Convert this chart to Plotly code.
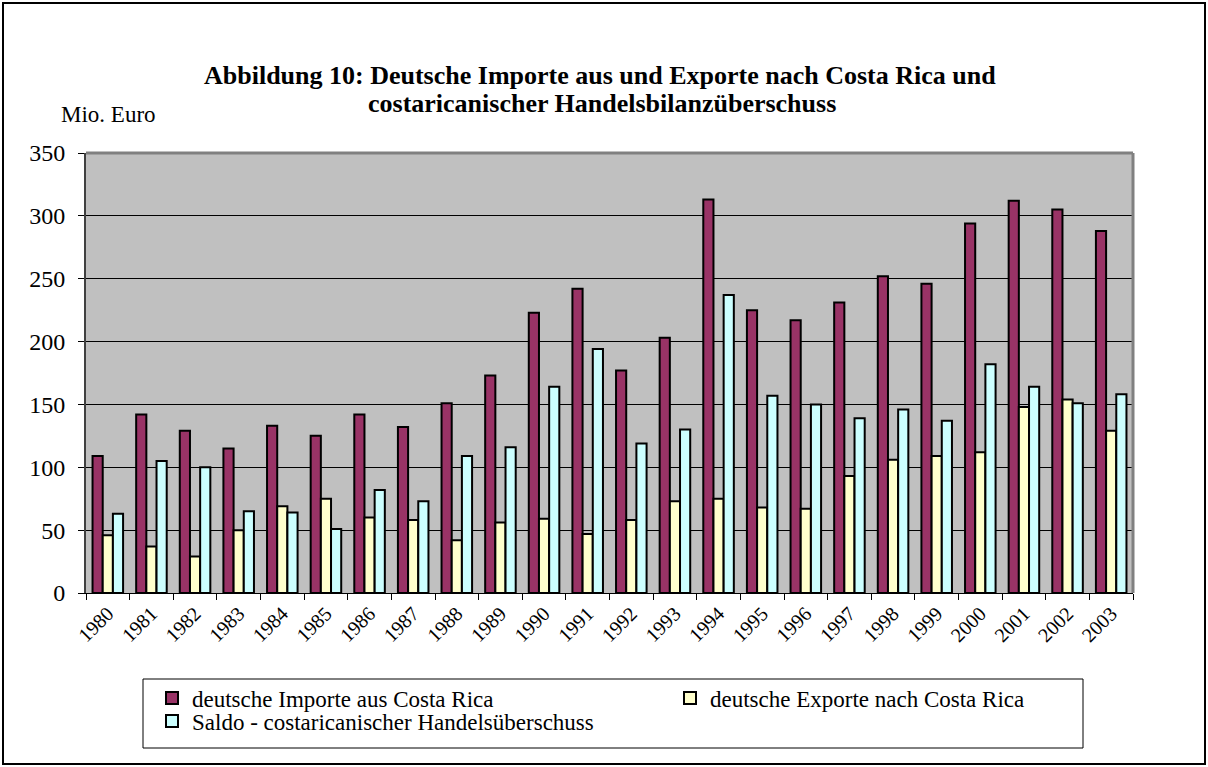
import plotly.graph_objects as go

years = [str(y) for y in range(1980, 2004)]
importe = [109, 142, 129, 115, 133, 125, 142, 132, 151, 173, 223, 242,
           177, 203, 313, 225, 217, 231, 252, 246, 294, 312, 305, 288]
exporte = [46, 37, 29, 50, 69, 75, 60, 58, 42, 56, 59, 47,
           58, 73, 75, 68, 67, 93, 106, 109, 112, 148, 154, 129]
saldo = [63, 105, 100, 65, 64, 51, 82, 73, 109, 116, 164, 194,
         119, 130, 237, 157, 150, 139, 146, 137, 182, 164, 151, 158]

series_names = ["deutsche Importe aus Costa Rica",
                "deutsche Exporte nach Costa Rica",
                "Saldo - costaricanischer Handelsüberschuss"]
colors = ["#993366", "#FFFFCC", "#CCFFFF"]
title_lines = ["Abbildung 10: Deutsche Importe aus und Exporte nach Costa Rica und",
               "costaricanischer Handelsbilanzüberschuss"]
y_unit = "Mio. Euro"

FONT = "Liberation Serif, Times New Roman, serif"

W, H = 1208, 767
L, R, T, B = 86, 75, 153, 174
pw, ph = W - L - R, H - T - B

def px_x(p):
    return (p - L) / pw

def px_y(p):
    return (H - B - p) / ph

legend_ids = ["legend", "legend2", "legend3"]
legend_pos = [(152, 698), (670, 698), (152, 721)]

fig = go.Figure()
for name, vals, col, lid in zip(series_names, [importe, exporte, saldo], colors, legend_ids):
    fig.add_trace(go.Bar(x=years, y=vals, name=name, marker_color=col,
                         marker_line_color="black", marker_line_width=2,
                         legend=lid))

leg_common = dict(orientation="v", xanchor="left", yanchor="middle",
                  borderwidth=0, bgcolor="rgba(0,0,0,0)",
                  font=dict(family=FONT, size=23, color="black"))
legends = {}
for lid, (lx, ly) in zip(legend_ids, legend_pos):
    legends[lid] = dict(x=px_x(lx), y=px_y(ly), **leg_common)

fig.update_layout(
    width=W, height=H,
    margin=dict(l=L, r=R, t=T, b=B),
    paper_bgcolor="white",
    plot_bgcolor="#C0C0C0",
    font=dict(family=FONT, color="black", size=22),
    barmode="group", bargap=0.3, bargroupgap=0.0,
    showlegend=True,
    xaxis=dict(type="category", tickangle=-45, ticks="outside",
               tickson="boundaries", ticklen=6, tickcolor="black",
               showline=True, linecolor="black", linewidth=1,
               showgrid=False, tickfont=dict(family=FONT, size=20)),
    yaxis=dict(range=[0, 350], dtick=50, ticks="outside", ticklen=6,
               tickcolor="black", showline=True, linecolor="#404040",
               linewidth=2, showgrid=True, gridcolor="black", gridwidth=1,
               zeroline=False, ticklabelstandoff=8,
               tickfont=dict(family=FONT, size=24)),
    annotations=[
        dict(text="<b>" + title_lines[0] + "</b>", xref="paper", yref="paper",
             x=px_x(600), y=px_y(75), xanchor="center", yanchor="middle",
             showarrow=False, font=dict(family=FONT, size=26)),
        dict(text="<b>" + title_lines[1] + "</b>", xref="paper", yref="paper",
             x=px_x(602), y=px_y(103), xanchor="center", yanchor="middle",
             showarrow=False, font=dict(family=FONT, size=26)),
        dict(text=y_unit, xref="paper", yref="paper",
             x=px_x(59), y=px_y(115), xanchor="left",
             yanchor="middle", showarrow=False,
             font=dict(family=FONT, size=23)),
    ],
    shapes=[
        dict(type="line", xref="paper", yref="paper", x0=0, x1=1, y0=1, y1=1,
             line=dict(color="#808080", width=3)),
        dict(type="line", xref="paper", yref="paper", x0=1, x1=1, y0=0, y1=1,
             line=dict(color="#808080", width=3)),
        dict(type="rect", xref="paper", yref="paper",
             x0=px_x(143), x1=px_x(1083), y0=px_y(748), y1=px_y(679),
             line=dict(color="black", width=1)),
        dict(type="rect", xref="paper", yref="paper",
             x0=px_x(3), x1=px_x(W - 3), y0=px_y(H - 3), y1=px_y(3),
             line=dict(color="black", width=2)),
    ],
    **legends,
)

fig.write_html("out.html", config={"displayModeBar": False},
               post_script="document.body.style.margin='0';")
